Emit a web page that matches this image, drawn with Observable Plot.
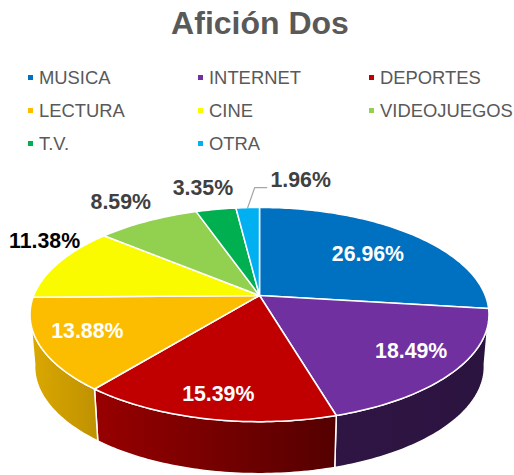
<!DOCTYPE html>
<html lang="es">
<head>
<meta charset="utf-8">
<script src="https://cdn.jsdelivr.net/npm/d3@7"></script>
<script src="https://cdn.jsdelivr.net/npm/@observablehq/plot@0.6"></script>
<style>
  html, body { margin: 0; padding: 0; background: #fff; }
  #page { position: relative; width: 514px; height: 475px; overflow: hidden; font-family: "Liberation Sans", Arial, sans-serif; }
  #title { position: absolute; left: 3px; width: 514px; top: 4px; text-align: center; font-size: 32px; line-height: 38px; font-weight: 700; color: #595959; }
  #legend { position: absolute; left: 0; top: 0; }
  .item { position: absolute; font-size: 18.4px; line-height: 22px; color: #595959; white-space: nowrap; }
  .swatch { position: absolute; width: 5px; height: 5px; left: -11px; top: 8px; }
  #chart { position: absolute; left: 0; top: 160px; }
  #chart svg { display: block; }
</style>
</head>
<body>
<div id="page">
  <div id="title"></div>
  <div id="legend"></div>
  <div id="chart"></div>
</div>
<script>
const chartTitle = "Afición Dos";
const categories = ["MUSICA", "INTERNET", "DEPORTES", "LECTURA", "CINE", "VIDEOJUEGOS", "T.V.", "OTRA"];
const shares = [26.96, 18.49, 15.39, 13.88, 11.38, 8.59, 3.35, 1.96];
const colors = ["#0070C0", "#7030A0", "#C00000", "#FCBD00", "#FBFB00", "#92D050", "#00B050", "#00B0F0"];

// Layout, in pixels
const W = 514, H = 315, cx = 259, cy = 135, sx = 225.8, sy = 103.7, tilt = 0.178;
const depth = 52 / sy, shrink = 0.98;
const wallStops = {
  INTERNET: ["#2F1543", "#2B1340"],
  DEPORTES: ["#980000", "#540000"],
  LECTURA: ["#DBA900", "#BF9100"]
};
const visibleFrom = 99, visibleTo = 261;
// Label anchor: radius factor, then nudge (px)
const labelLayout = [
  {r: 0.7, dx: -1, dy: 3, fill: "#fff"},
  {r: 0.8, dx: 0, dy: -3, fill: "#fff"},
  {r: 0.8, dx: 0, dy: 4, fill: "#fff"},
  {r: 0.8, dx: 1, dy: -3, fill: "#fff"},
  {r: 1, dx: -14, dy: -22, fill: "#000"},
  {r: 1, dx: -27, dy: -19, fill: "#404040"},
  {r: 1, dx: -13, dy: -21, fill: "#404040"},
  {r: 1, dx: 53, dy: -27, fill: "#404040"}
];

// Perspective projection of a point on the unit disc; angle clockwise from the top
function project(deg, r = 1) {
  const a = deg * Math.PI / 180, u = r * Math.sin(a), v = -r * Math.cos(a), d = 1 - tilt * v;
  return {x: u / d, y: v / d};
}
function arc(a0, a1) {
  const n = Math.max(2, Math.ceil(Math.abs(a1 - a0)));
  return d3.range(n + 1).map(i => project(a0 + (a1 - a0) * i / n));
}

let total = 0;
const slices = categories.map((name, i) => {
  const start = total * 3.6;
  total += shares[i];
  return {name, share: shares[i], start, end: total * 3.6, mid: (start + total * 3.6) / 2, layout: labelLayout[i]};
});

const tops = slices.flatMap(s =>
  [{x: 0, y: 0}, ...arc(s.start, s.end)].map(p => ({...p, name: s.name}))
);

const walls = slices.filter(s => wallStops[s.name]).map(s => {
  const a0 = Math.max(s.start, visibleFrom), a1 = Math.min(s.end, visibleTo);
  const top = arc(a0, a1);
  const bottom = arc(a1, a0).map(p => ({x: p.x * shrink, y: p.y + depth}));
  return {name: s.name, points: [...top, ...bottom]};
});

const labels = slices.map(s => {
  const p = project(s.mid, s.layout.r);
  return {
    text: s.share.toFixed(2) + "%",
    x: p.x + s.layout.dx / sx,
    y: p.y + s.layout.dy / sy,
    fill: s.layout.fill
  };
});

const rim = project(slices[7].mid);
const leader = [
  rim,
  {x: rim.x + 7 / sx, y: rim.y - 20 / sy},
  {x: rim.x + 19 / sx, y: rim.y - 20 / sy}
];

function gradients() {
  const defs = d3.create("svg:defs");
  for (const [name, stops] of Object.entries(wallStops)) {
    const g = defs.append("linearGradient").attr("id", "wall-" + name)
      .attr("x1", 0).attr("x2", 1).attr("y1", 0).attr("y2", 0);
    g.append("stop").attr("offset", "0%").attr("stop-color", stops[0]);
    g.append("stop").attr("offset", "100%").attr("stop-color", stops[1]);
  }
  return defs.node();
}

const chart = Plot.plot({
  width: W, height: H,
  marginTop: 0, marginRight: 0, marginBottom: 0, marginLeft: 0,
  style: {background: "transparent"},
  x: {type: "linear", domain: [-1, 1], range: [cx - sx, cx + sx], axis: null},
  y: {type: "linear", domain: [-1, 1], range: [cy - sy, cy + sy], axis: null},
  color: {type: "ordinal", domain: categories, range: colors},
  marks: [
    gradients,
    ...walls.map(w => Plot.line(w.points, {
      x: "x", y: "y", curve: "linear-closed",
      fill: `url(#wall-${w.name})`, stroke: "#fff", strokeWidth: 1.5, strokeLinejoin: "round"
    })),
    Plot.line(tops, {
      x: "x", y: "y", z: "name", curve: "linear-closed",
      fill: "name", stroke: "#fff", strokeWidth: 1.5, strokeLinejoin: "round"
    }),
    Plot.line(leader, {x: "x", y: "y", stroke: "#A6A6A6", strokeWidth: 1.3}),
    Plot.text(labels, {
      x: "x", y: "y", text: "text", fill: d => d.fill,
      fontFamily: "Liberation Sans", fontWeight: 700, fontSize: 21.3, textAnchor: "middle"
    })
  ]
});
document.getElementById("chart").append(chart);

document.getElementById("title").textContent = chartTitle;
const legendColumns = [39, 209, 380], legendRows = [67, 100, 133];
const legend = document.getElementById("legend");
categories.forEach((name, i) => {
  const item = document.createElement("div");
  item.className = "item";
  item.style.left = legendColumns[i % 3] + "px";
  item.style.top = legendRows[Math.floor(i / 3)] + "px";
  item.textContent = name;
  const swatch = document.createElement("span");
  swatch.className = "swatch";
  swatch.style.background = colors[i];
  item.prepend(swatch);
  legend.append(item);
});
</script>
</body>
</html>
